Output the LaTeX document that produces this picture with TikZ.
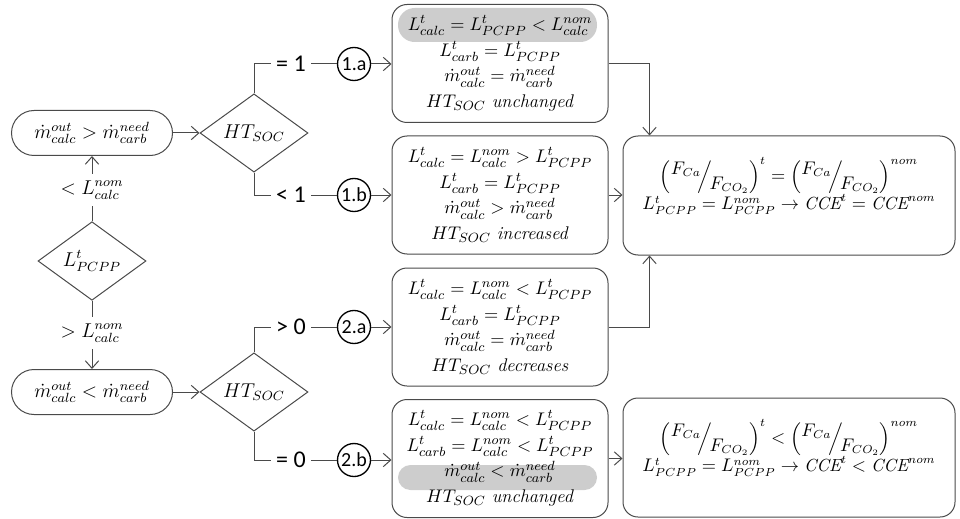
\documentclass[tikz,border=0pt]{standalone}
\usepackage{amsmath}
\usepackage{fontspec}
\newfontfamily\carlito{Carlito}
\usepackage{tikz}
\usetikzlibrary{
    arrows.meta,
    shapes.geometric
}
\definecolor{linegray}{HTML}{4A4A4A}
\definecolor{hlgray}{HTML}{CDCDCD}
\tikzset{
    link/.style={draw=linegray, line width=0.6pt},
    flow/.style={link, -{Straight Barb[length=4.5pt, width=8pt]}},
    casebox/.style={link, rounded corners=9pt, minimum width=129.6pt,
        minimum height=70.8pt, align=center, inner sep=0pt,
        font=\fontsize{11}{15.5}\selectfont},
    resultbox/.style={link, rounded corners=9pt, minimum width=199.2pt,
        minimum height=71.4pt, inner sep=0pt},
    resulttext/.style={align=center, inner sep=0pt, font=\fontsize{10.5}{17}\selectfont},
    condbox/.style={link, rounded corners=13.5pt, minimum width=96.6pt,
        minimum height=27pt, inner sep=0pt, font=\large},
    decision/.style={link, diamond, minimum width=64.8pt, minimum height=44.4pt,
        inner sep=0pt, font=\large},
    casetag/.style={draw=black, line width=0.8pt, circle, minimum size=19.8pt,
        inner sep=0pt, font=\carlito\large},
    branch/.style={inner sep=3pt, font=\carlito\Large},
    bound/.style={inner sep=4pt, font=\large},
    highlight/.style={fill=hlgray, minimum width=119.4pt, inner sep=0pt}
}
\newcommand{\ratioCa}{\left(\raisebox{1ex}{$F_{Ca}$}\!\middle/\!\raisebox{-1ex}{$F_{CO_2}$}\right)}

\begin{document}
\begin{tikzpicture}[x=0.6pt, y=-0.6pt]
    \useasboundingbox (0,0) rectangle (960,518);
    % grey marks behind the limiting lines
    \node[highlight, rounded corners=10pt, minimum height=20.4pt] (hlonea) at (497.5,25) {};
    \node[highlight, rounded corners=7.5pt, minimum height=15pt] (hltwob) at (497.5,477.5) {};

    \node[decision] (lpcpp) at (92,261) {$L^{t}_{PCPP}$};
    \node[bound] (ltnom) at (92,190) {$<L^{nom}_{calc}$};
    \node[bound] (gtnom) at (92,333) {$>L^{nom}_{calc}$};
    \node[condbox] (condhigh) at (92,133) {$\dot{m}^{out}_{calc} > \dot{m}^{need}_{carb}$};
    \node[condbox] (condlow) at (92,392) {$\dot{m}^{out}_{calc} < \dot{m}^{need}_{carb}$};

    \node[decision] (htsochigh) at (254,133) {$HT_{SOC}$};
    \node[decision] (htsoclow) at (254,392) {$HT_{SOC}$};

    \node[branch] (eqone) at (291,64) {= 1};
    \node[branch] (ltone) at (291,195) {< 1};
    \node[branch] (gtzero) at (291,327) {> 0};
    \node[branch] (eqzero) at (291,460) {= 0};
    \node[casetag] (tagonea) at (354,64) {1.a};
    \node[casetag] (tagoneb) at (354,195) {1.b};
    \node[casetag] (tagtwoa) at (354,327) {2.a};
    \node[casetag] (tagtwob) at (354,460) {2.b};

    \node[casebox] (caseonea) at (500,63.5) {$L^{t}_{calc} = L^{t}_{PCPP} < L^{nom}_{calc}$\\
        $L^{t}_{carb} = L^{t}_{PCPP}$\\ $\dot{m}^{out}_{calc} = \dot{m}^{need}_{carb}$\\
        $HT_{SOC}$ \textit{unchanged}};
    \node[casebox] (caseoneb) at (500,195) {$L^{t}_{calc} = L^{nom}_{calc} > L^{t}_{PCPP}$\\
        $L^{t}_{carb} = L^{t}_{PCPP}$\\ $\dot{m}^{out}_{calc} > \dot{m}^{need}_{carb}$\\
        $HT_{SOC}$ \textit{increased}};
    \node[casebox] (casetwoa) at (500,327) {$L^{t}_{calc} = L^{nom}_{calc} < L^{t}_{PCPP}$\\
        $L^{t}_{carb} = L^{t}_{PCPP}$\\ $\dot{m}^{out}_{calc} = \dot{m}^{need}_{carb}$\\
        $HT_{SOC}$ \textit{decreases}};
    \node[casebox] (casetwob) at (500,458.5) {$L^{t}_{calc} = L^{nom}_{calc} < L^{t}_{PCPP}$\\
        $L^{t}_{carb} = L^{nom}_{calc} < L^{t}_{PCPP}$\\ $\dot{m}^{out}_{calc} < \dot{m}^{need}_{carb}$\\
        $HT_{SOC}$ \textit{unchanged}};

    \node[resultbox] (samecce) at (789,195.5) {};
    \node[resultbox] (lowcce) at (789,457.5) {};
    \node[resulttext] (samecctext) at (789,186) {$\ratioCa^{t} = \ratioCa^{nom}$\\
        $L^{t}_{PCPP} = L^{nom}_{PCPP} \rightarrow \mathit{CCE}^{t} = \mathit{CCE}^{nom}$};
    \node[resulttext] (lowccetext) at (789,448) {$\ratioCa^{t} < \ratioCa^{nom}$\\
        $L^{t}_{PCPP} = L^{nom}_{PCPP} \rightarrow \mathit{CCE}^{t} < \mathit{CCE}^{nom}$};

    \draw[link] (lpcpp.north) -- (ltnom.south);
    \draw[flow] (ltnom.north) -- (condhigh.south);
    \draw[link] (lpcpp.south) -- (gtnom.north);
    \draw[flow] (gtnom.south) -- (condlow.north);
    \draw[flow] (condhigh.east) -- (htsochigh.west);
    \draw[flow] (condlow.east) -- (htsoclow.west);

    \draw[link] (htsochigh.north) |- (eqone.west);
    \draw[link] (htsochigh.south) |- (ltone.west);
    \draw[link] (htsoclow.north) |- (gtzero.west);
    \draw[link] (htsoclow.south) |- (eqzero.west);
    \draw[link] (eqone.east) -- (tagonea.west);
    \draw[link] (ltone.east) -- (tagoneb.west);
    \draw[link] (gtzero.east) -- (tagtwoa.west);
    \draw[link] (eqzero.east) -- (tagtwob.west);
    \draw[flow] (tagonea.east) -- (tagonea.east -| caseonea.west);
    \draw[flow] (tagoneb.east) -- (tagoneb.east -| caseoneb.west);
    \draw[flow] (tagtwoa.east) -- (tagtwoa.east -| casetwoa.west);
    \draw[flow] (tagtwob.east) -- (tagtwob.east -| casetwob.west);

    \draw[flow] (caseonea.east) -| ([xshift=16.2pt]samecce.north west);
    \draw[flow] (caseoneb.east) -- (caseoneb.east -| samecce.west);
    \draw[flow] (casetwoa.east) -| ([xshift=16.2pt]samecce.south west);
    \draw[flow] (casetwob.east) -- (casetwob.east -| lowcce.west);
\end{tikzpicture}
\end{document}
